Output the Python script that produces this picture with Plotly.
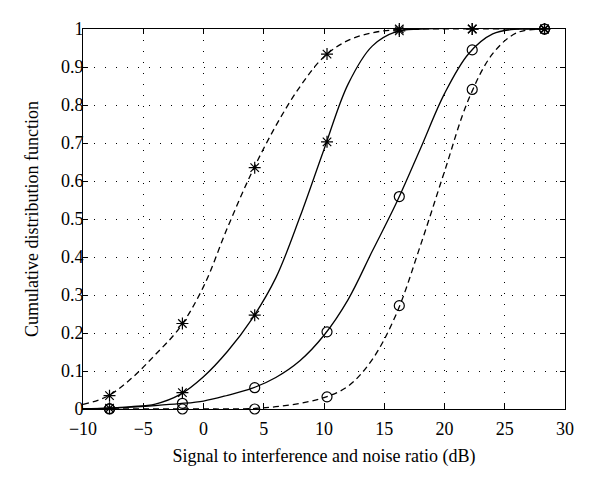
import plotly.graph_objects as go

# Curves at 2 dB steps (SINR in dB, CDF)
a_x = [-10, -8, -6, -4, -2, 0, 2, 4, 6, 8, 10, 12, 14, 16, 18, 28.3]
a_y = [0.012, 0.033, 0.08, 0.143, 0.213, 0.322, 0.478, 0.622, 0.745, 0.848, 0.927, 0.970, 0.990, 0.998, 1.0, 1.0]

b_x = [-10, -8, -6, -4, -2, 0, 2, 4, 6, 8, 10, 12, 14, 16, 18, 28.3]
b_y = [0.0, 0.002, 0.006, 0.013, 0.037, 0.085, 0.152, 0.236, 0.345, 0.505, 0.683, 0.855, 0.955, 0.993, 1.0, 1.0]

c_x = [-10, -8, -6, -4, -2, 0, 2, 4, 6, 8, 10, 12, 14, 16, 18, 20, 22, 24, 26, 28.3]
c_y = [0.0, 0.002, 0.005, 0.009, 0.014, 0.021, 0.036, 0.054, 0.083, 0.127, 0.194, 0.288, 0.415, 0.542, 0.685, 0.83, 0.935, 0.987, 1.0, 1.0]

d_x = [-10, -8, -6, -4, -2, 0, 2, 4, 6, 8, 10, 12, 14, 16, 18, 20, 22, 24, 26, 28.3]
d_y = [0.0, 0.0, 0.0, 0.0, 0.0, 0.0, 0.0, 0.001, 0.006, 0.015, 0.03, 0.06, 0.13, 0.25, 0.43, 0.625, 0.815, 0.935, 0.99, 1.0]

# Marker positions
mk_x = [-7.8, -1.75, 4.25, 10.25, 16.25, 22.3, 28.3]
a_mk = [0.035, 0.225, 0.635, 0.934, 1.0, 1.0, 1.0]
b_mk = [0.002, 0.043, 0.247, 0.703, 0.995, 1.0, 1.0]
c_mk = [0.001, 0.015, 0.056, 0.203, 0.559, 0.945, 1.0]
d_mk = [0.0, 0.0, 0.0, 0.032, 0.272, 0.841, 1.0]

x_ticks = [-10, -5, 0, 5, 10, 15, 20, 25, 30]
x_tick_text = ["\u221210", "\u22125", "0", "5", "10", "15", "20", "25", "30"]
y_ticks = [0, 0.1, 0.2, 0.3, 0.4, 0.5, 0.6, 0.7, 0.8, 0.9, 1]
y_tick_text = ["0", "0.1", "0.2", "0.3", "0.4", "0.5", "0.6", "0.7", "0.8", "0.9", "1"]

fig = go.Figure()

curves = [
    (a_x, a_y, "6px,4px", a_mk, "asterisk-open"),
    (b_x, b_y, "solid", b_mk, "asterisk-open"),
    (c_x, c_y, "solid", c_mk, "circle-open"),
    (d_x, d_y, "6px,4px", d_mk, "circle-open"),
]

for xs, ys, dash, mk, sym in curves:
    fig.add_trace(go.Scatter(
        x=xs, y=ys, mode="lines",
        line=dict(color="black", width=1.3, dash=dash, shape="spline", smoothing=1.0),
        showlegend=False, hoverinfo="skip"))
    fig.add_trace(go.Scatter(
        x=mk_x, y=mk, mode="markers",
        marker=dict(symbol=sym, size=10, color="black", line=dict(color="black", width=1.2)),
        cliponaxis=False, showlegend=False))

font_family = "Liberation Serif, DejaVu Serif, serif"

# the page body has an 8px margin, so offset the figure margins accordingly
fig.update_layout(
    width=600, height=491,
    margin=dict(l=75, r=43, t=21, b=90),
    paper_bgcolor="white", plot_bgcolor="white",
    font=dict(family=font_family, size=18, color="black"),
)

fig.update_xaxes(
    range=[-10, 30], tickvals=x_ticks, ticktext=x_tick_text,
    showline=True, linecolor="black", linewidth=1, mirror="ticks",
    ticks="inside", ticklen=5, tickcolor="black",
    showgrid=True, gridcolor="black", gridwidth=1, griddash="1px,10px",
    zeroline=False, automargin=False, tickfont=dict(size=18), ticklabelstandoff=3,
    title=dict(text="Signal to interference and noise ratio (dB)", standoff=11, font=dict(size=18)),
)
fig.update_yaxes(
    range=[0, 1], tickvals=y_ticks, ticktext=y_tick_text,
    showline=True, linecolor="black", linewidth=1, mirror="ticks",
    ticks="inside", ticklen=5, tickcolor="black",
    showgrid=True, gridcolor="black", gridwidth=1, griddash="1px,10px",
    zeroline=False, automargin=False, tickfont=dict(size=18), ticklabelstandoff=-5,
    title=dict(text="Cumulative distribution function", standoff=17, font=dict(size=18)),
)

fig.write_html("out.html")
